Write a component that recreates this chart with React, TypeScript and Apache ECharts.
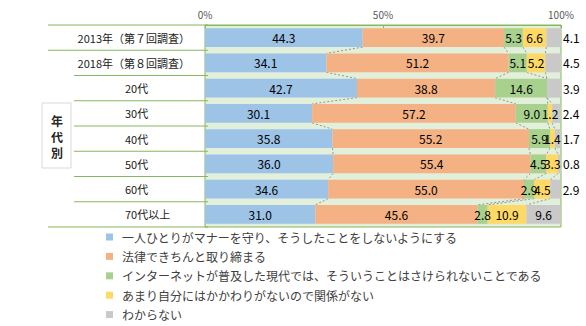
import React, { useEffect, useRef } from "react";
import * as echarts from "echarts";

const categories = [
  "2013年（第７回調査）",
  "2018年（第８回調査）",
  "20代",
  "30代",
  "40代",
  "50代",
  "60代",
  "70代以上",
];
const seriesNames = [
  "一人ひとりがマナーを守り、そうしたことをしないようにする",
  "法律できちんと取り締まる",
  "インターネットが普及した現代では、そういうことはさけられないことである",
  "あまり自分にはかかわりがないので関係がない",
  "わからない",
];
const manners = [44.3, 34.1, 42.7, 30.1, 35.8, 36.0, 34.6, 31.0];
const law = [39.7, 51.2, 38.8, 57.2, 55.2, 55.4, 55.0, 45.6];
const unavoidable = [5.3, 5.1, 14.6, 9.0, 5.9, 4.5, 2.9, 2.8];
const unrelated: (number | null)[] = [6.6, 5.2, null, 1.2, 1.4, 3.3, 4.5, 10.9];
const unknown = [4.1, 4.5, 3.9, 2.4, 1.7, 0.8, 2.9, 9.6];
const xTicks = { min: 0, max: 100, interval: 50 };

const colors = ["#9DC3E6", "#F4B183", "#A9D18E", "#FFD966", "#C9C9C9"];
const FONT = "'Noto Sans CJK JP', 'Noto Sans', sans-serif";
const GREEN = "#86B85E";

const GRID = { left: 205, right: 25, top: 25, bottom: 99 };
const W = 586;
const H = 326;

export default function App() {
  const ref = useRef<HTMLDivElement>(null);
  useEffect(() => {
    if (!ref.current) return;
    const chart = echarts.init(ref.current, null, { renderer: "svg" });
    const allSeries = [manners, law, unavoidable, unrelated, unknown];

    const plotH = H - GRID.top - GRID.bottom;
    const rowH = plotH / categories.length;
    const tableLines: any[] = [];
    for (let i = 0; i <= categories.length; i++) {
      const y = GRID.top + i * rowH;
      const x1 = i === 0 || i === 1 || i === categories.length ? 48 : 74;
      tableLines.push({
        type: "line",
        shape: { x1, y1: y, x2: GRID.left + 3, y2: y },
        style: { stroke: GREEN, lineWidth: 1 },
        z: 10,
      });
    }

    const labelFmt = (p: any) =>
      p.value == null || p.value === 0 ? "" : Number(p.value).toFixed(1);

    const barSeries = allSeries.map((arr, k) => ({
      name: seriesNames[k],
      type: "bar",
      stack: "total",
      barCategoryGap: "25%",
      itemStyle: { color: colors[k] },
      label: {
        show: true,
        position: "inside",
        color: "#000",
        fontSize: 12,
        fontFamily: FONT,
        formatter: labelFmt,
      },
      data: arr.map((v) =>
        k === 4 && v != null && v < 5
          ? { value: v, label: { position: "right", distance: 2 } }
          : v
      ),
    }));

    const connector = {
      type: "custom",
      silent: true,
      z: 1,
      renderItem: (params: any, api: any) => {
        const i = api.value(1);
        const band = api.size([0, 1])[1];
        const half = (band * 0.75) / 2;
        const children: any[] = [];
        let c0 = 0;
        let c1 = 0;
        for (let k = 0; k < 4; k++) {
          c0 += (allSeries[k][i] as number) || 0;
          c1 += (allSeries[k][i + 1] as number) || 0;
          const p0 = api.coord([c0, i]);
          const p1 = api.coord([c1, i + 1]);
          children.push({
            type: "line",
            shape: { x1: p0[0], y1: p0[1] + half, x2: p1[0], y2: p1[1] - half },
            style: { stroke: "#7F7F7F", lineWidth: 0.8, lineDash: [2, 2] },
          });
        }
        return { type: "group", children };
      },
      encode: { x: 0, y: 1 },
      data: categories.slice(0, -1).map((_, i) => [0, i]),
    };

    chart.setOption({
      animation: false,
      textStyle: { fontFamily: FONT },
      grid: {
        ...GRID,
        show: true,
        backgroundColor: "#E2EFDA",
        borderColor: GREEN,
        borderWidth: 1,
      },
      xAxis: {
        type: "value",
        position: "top",
        ...xTicks,
        axisLine: { show: true, lineStyle: { color: GREEN } },
        axisTick: { show: true, inside: true, length: 3, lineStyle: { color: GREEN } },
        splitLine: { show: false },
        axisLabel: {
          formatter: "{value}%",
          color: "#595959",
          fontSize: 10,
          fontFamily: FONT,
          margin: 6,
        },
      },
      yAxis: {
        type: "category",
        inverse: true,
        data: categories,
        axisLine: { show: false },
        axisTick: { show: false },
        axisLabel: {
          margin: 15,
          color: "#1A1A1A",
          fontSize: 11,
          fontFamily: FONT,
          formatter: (v: string, idx: number) => (idx < 2 ? `{y|${v}}` : `{a|${v}}`),
          rich: {
            y: { fontSize: 11, fontFamily: FONT, color: "#1A1A1A" },
            a: { fontSize: 11, fontFamily: FONT, color: "#1A1A1A", width: 65, align: "left" },
          },
        },
      },
      legend: {
        data: seriesNames,
        orient: "vertical",
        left: 106,
        top: 230,
        padding: 0,
        icon: "rect",
        itemWidth: 7,
        itemHeight: 7,
        itemGap: 5.4,
        textStyle: {
          color: "#404040",
          fontSize: 12,
          fontFamily: FONT,
          lineHeight: 14,
          padding: [0, 0, 0, 4],
        },
      },
      graphic: [
        ...tableLines,
        {
          type: "rect",
          shape: { x: 42, y: 103, width: 29, height: 65 },
          style: { fill: "#fff", stroke: "#D9D9D9", lineWidth: 1 },
        },
        {
          type: "text",
          x: 57,
          y: 136,
          style: {
            text: "年\n代\n別",
            fontSize: 12,
            fontWeight: "bold",
            fontFamily: FONT,
            fill: "#262626",
            lineHeight: 16,
            align: "center",
            verticalAlign: "middle",
          },
        },
      ],
      series: [...barSeries, connector],
    });
    return () => chart.dispose();
  }, []);
  return (
    <div
      ref={ref}
      style={{ position: "fixed", left: 0, top: 0, width: W, height: H, background: "#fff" }}
    />
  );
}
